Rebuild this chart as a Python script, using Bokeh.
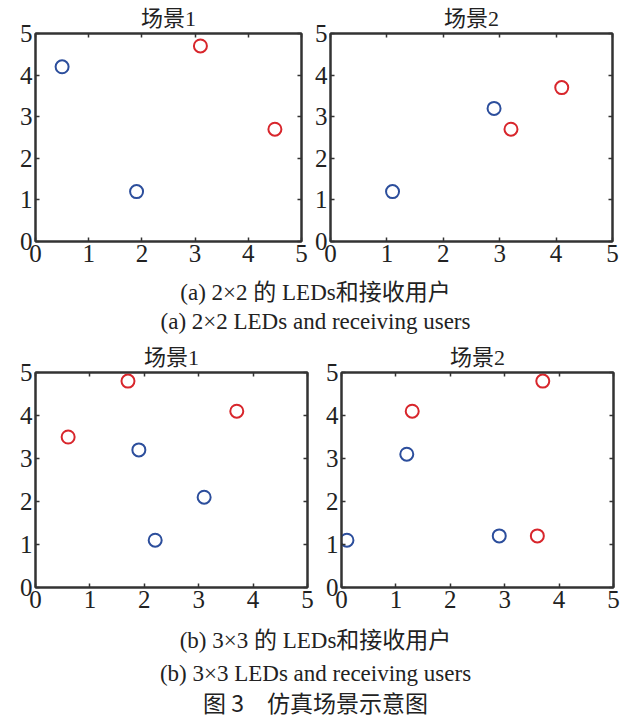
from bokeh.plotting import figure
from bokeh.models import Range1d, FixedTicker, LinearAxis, Label, Title
from bokeh.layouts import column, row
from bokeh.embed import file_html
from bokeh.resources import INLINE

# ---------------- data ----------------
ticks = [0, 1, 2, 3, 4, 5]
tick_labels = ["0", "1", "2", "3", "4", "5"]

# (a) 2x2, scene 1
a1_blue_x = [0.5, 1.9]
a1_blue_y = [4.2, 1.2]
a1_red_x = [3.1, 4.5]
a1_red_y = [4.7, 2.7]
# (a) 2x2, scene 2
a2_blue_x = [1.1, 2.9]
a2_blue_y = [1.2, 3.2]
a2_red_x = [3.2, 4.1]
a2_red_y = [2.7, 3.7]
# (b) 3x3, scene 1
b1_blue_x = [1.9, 3.1, 2.2]
b1_blue_y = [3.2, 2.1, 1.1]
b1_red_x = [0.6, 1.7, 3.7]
b1_red_y = [3.5, 4.8, 4.1]
# (b) 3x3, scene 2
b2_blue_x = [0.1, 1.2, 2.9]
b2_blue_y = [1.1, 3.1, 1.2]
b2_red_x = [1.3, 3.6, 3.7]
b2_red_y = [4.1, 1.2, 4.8]

titles = ["场景1", "场景2"]
caption_a_cn = "(a) 2×2 的 LEDs和接收用户"
caption_a_en = "(a) 2×2 LEDs and receiving users"
caption_b_cn = "(b) 3×3 的 LEDs和接收用户"
caption_b_en = "(b) 3×3 LEDs and receiving users"
fig_title = "图 3\u3000仿真场景示意图"

BLUE = "#2C4E9C"
RED = "#D8262C"
DARK = "#333333"
TXT = "#222222"
SERIF = "'Liberation Serif', 'Noto Sans CJK SC'"
CJK = "'Noto Sans CJK SC'"


def panel(title, bx, by, rx, ry, width, height, bl, br, bt, bb):
    p = figure(width=width, height=height, x_range=Range1d(0, 5), y_range=Range1d(0, 5),
               toolbar_location=None, output_backend="svg",
               title=Title(text=title, align="center", text_font=SERIF,
                           text_font_size="22px", text_font_style="normal",
                           text_color=TXT, standoff=5),
               min_border_left=bl, min_border_right=br,
               min_border_top=bt, min_border_bottom=bb)
    p.xgrid.visible = False
    p.ygrid.visible = False
    p.outline_line_color = DARK
    p.outline_line_width = 2
    p.background_fill_color = "white"
    p.border_fill_color = "white"
    p.add_layout(LinearAxis(), "above")
    p.add_layout(LinearAxis(), "right")
    for ax in p.axis:
        ax.ticker = FixedTicker(ticks=ticks)
        ax.major_tick_in = 4
        ax.major_tick_out = 0
        ax.minor_tick_in = 0
        ax.minor_tick_out = 0
        ax.major_tick_line_color = DARK
        ax.major_tick_line_width = 1.5
        ax.axis_line_color = DARK
        ax.axis_line_width = 2
        ax.major_label_text_font = "Liberation Serif"
        ax.major_label_text_color = TXT
    for ax in p.below + p.left:
        ax.major_label_text_font_size = "25px"
        ax.major_label_standoff = 3
        ax.major_label_overrides = {t: s for t, s in zip(ticks, tick_labels)}
    for ax in p.above + p.right:
        if isinstance(ax, LinearAxis):
            ax.major_label_text_font_size = "0px"
            ax.major_label_standoff = 0
            ax.major_label_overrides = {t: "" for t in ticks}
    p.scatter(bx, by, marker="circle", size=13, fill_color=None,
              line_color=BLUE, line_width=2)
    p.scatter(rx, ry, marker="circle", size=13, fill_color=None,
              line_color=RED, line_width=2)
    return p


def caption(width, height, items):
    p = figure(width=width, height=height, x_range=Range1d(0, width), y_range=Range1d(0, height),
               toolbar_location=None, output_backend="svg", title=None,
               min_border=0, min_border_left=0, min_border_right=0,
               min_border_top=0, min_border_bottom=0)
    p.axis.visible = False
    p.xgrid.visible = False
    p.ygrid.visible = False
    p.outline_line_color = None
    for (txt, x, y, font, size) in items:
        p.add_layout(Label(x=x, y=y, text=txt, text_align="center", text_baseline="middle",
                           text_font=font, text_font_size=size, text_color=TXT))
    return p


a1 = panel(titles[0], a1_blue_x, a1_blue_y, a1_red_x, a1_red_y, 311, 273, 35, 10, 33, 32)
a2 = panel(titles[1], a2_blue_x, a2_blue_y, a2_red_x, a2_red_y, 315, 273, 18, 14, 33, 32)
capA = caption(626, 67, [(caption_a_cn, 315, 48, SERIF, "23px"),
                         (caption_a_en, 315, 19, SERIF, "23px")])
b1 = panel(titles[0], b1_blue_x, b1_blue_y, b1_red_x, b1_red_y, 317, 279, 35, 10, 25, 32)
b2 = panel(titles[1], b2_blue_x, b2_blue_y, b2_red_x, b2_red_y, 309, 279, 24, 13, 25, 32)
capB = caption(626, 99, [(caption_b_cn, 315, 78, SERIF, "23px"),
                         (caption_b_en, 315, 45, SERIF, "23px"),
                         (fig_title, 315, 17, CJK, "23px")])

layout = column(row(a1, a2), capA, row(b1, b2), capB)
open("out.html", "w").write(file_html(layout, INLINE))
